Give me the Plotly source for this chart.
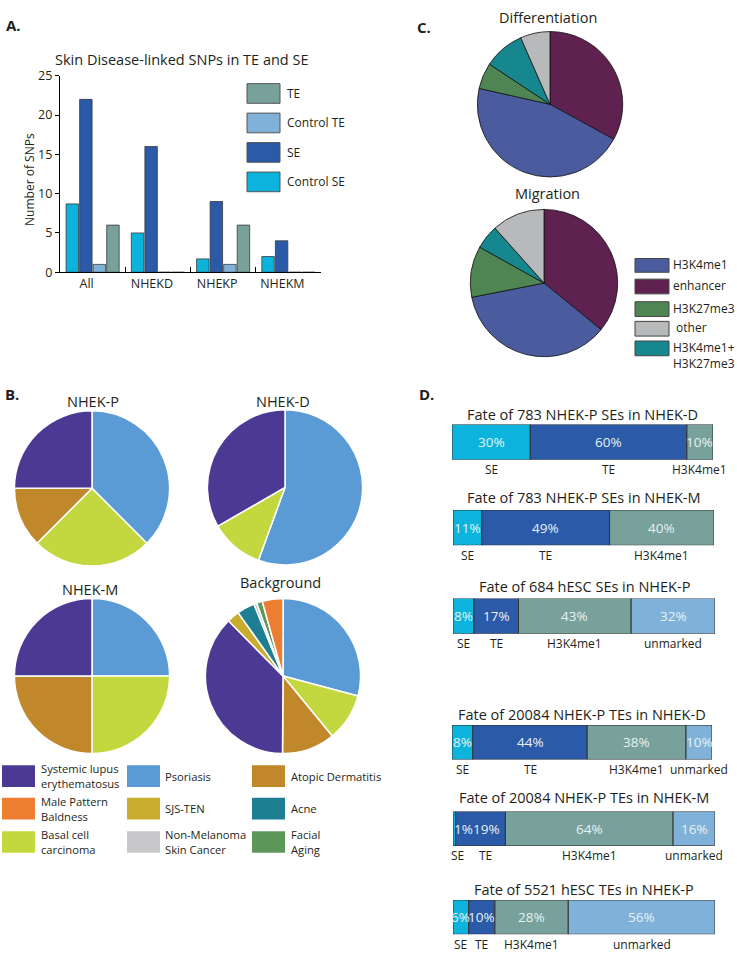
import plotly.graph_objects as go

W, H = 737, 960
FONT = "Open Sans"
TXT = "#231f20"

# ---------------- Panel A data ----------------
a_title = "Skin Disease-linked SNPs in TE and SE"
a_categories = ["All", "NHEKD", "NHEKP", "NHEKM"]
a_series = ["Control SE", "SE", "Control TE", "TE"]
a_control_se = [8.7, 5, 1.7, 2]
a_se = [22, 16, 9, 4]
a_control_te = [1, 0, 1, 0]
a_te = [6, 0, 6, 0]
a_yticks = [0, 5, 10, 15, 20, 25]
a_legend_order = ["TE", "Control TE", "SE", "Control SE"]

# ---------------- Panel B data ----------------
b_diseases = ["Psoriasis", "Basal cell carcinoma", "Atopic Dermatitis",
              "Systemic lupus erythematosus", "SJS-TEN", "Acne",
              "Non-Melanoma Skin Cancer", "Facial Aging", "Male Pattern Baldness"]
b_nhek_p = [3, 2, 1, 2, 0, 0, 0, 0, 0]
b_nhek_d = [5, 1, 0, 3, 0, 0, 0, 0, 0]
b_nhek_m = [1, 1, 1, 1, 0, 0, 0, 0, 0]
b_background = [29.1, 9.9, 11.0, 37.4, 2.6, 3.7, 0.6, 1.2, 4.3]
b_pie_titles = ["NHEK-P", "NHEK-D", "NHEK-M", "Background"]
b_legend_labels = ["Systemic lupus<br>erythematosus", "Psoriasis", "Atopic Dermatitis",
                   "Male Pattern<br>Baldness", "SJS-TEN", "Acne",
                   "Basal cell<br>carcinoma", "Non-Melanoma<br>Skin Cancer", "Facial<br>Aging"]
b_legend_keys = ["Systemic lupus erythematosus", "Psoriasis", "Atopic Dermatitis",
                 "Male Pattern Baldness", "SJS-TEN", "Acne",
                 "Basal cell carcinoma", "Non-Melanoma Skin Cancer", "Facial Aging"]

# ---------------- Panel C data ----------------
c_marks = ["enhancer", "H3K4me1", "H3K27me3", "H3K4me1+H3K27me3", "other"]
c_differentiation = [33.0, 45.5, 5.8, 9.1, 6.6]
c_migration = [35.9, 36.0, 11.2, 5.3, 11.6]
c_pie_titles = ["Differentiation", "Migration"]
c_legend_keys = ["H3K4me1", "enhancer", "H3K27me3", "other", "H3K4me1+H3K27me3"]
c_legend_labels = ["H3K4me1", "enhancer", "H3K27me3", " other", "H3K4me1+<br>H3K27me3"]

# ---------------- Panel D data ----------------
d_states = ["SE", "TE", "H3K4me1", "unmarked"]
d_titles = ["Fate of 783 NHEK-P SEs in NHEK-D",
            "Fate of 783 NHEK-P SEs in NHEK-M",
            "Fate of 684 hESC SEs in NHEK-P",
            "Fate of 20084 NHEK-P TEs in NHEK-D",
            "Fate of 20084 NHEK-P TEs in NHEK-M",
            "Fate of 5521 hESC TEs in NHEK-P"]
d_p_se_in_d = [30, 60, 10, 0]
d_p_se_in_m = [11, 49, 40, 0]
d_hesc_se_in_p = [8, 17, 43, 32]
d_p_te_in_d = [8, 44, 38, 10]
d_p_te_in_m = [1, 19, 64, 16]
d_hesc_te_in_p = [6, 10, 28, 56]
d_all = [d_p_se_in_d, d_p_se_in_m, d_hesc_se_in_p, d_p_te_in_d, d_p_te_in_m, d_hesc_te_in_p]

# ---------------- styles ----------------
A_COLORS = {"Control SE": "#0cb3dc", "SE": "#2b5aa9", "Control TE": "#80b1d9", "TE": "#77a19a"}
D_COLORS = {"SE": "#0cb3dc", "TE": "#2b5aa9", "H3K4me1": "#77a19a", "unmarked": "#80b1d9"}
B_COLORS = {"Psoriasis": "#5b9bd5", "Basal cell carcinoma": "#c2d83e",
            "Atopic Dermatitis": "#c0882a", "Systemic lupus erythematosus": "#4b3994",
            "SJS-TEN": "#c8ad2f", "Acne": "#1f7f92", "Non-Melanoma Skin Cancer": "#c8c8ca",
            "Facial Aging": "#5e975a", "Male Pattern Baldness": "#ed7d31"}
C_COLORS = {"enhancer": "#5e2150", "H3K4me1": "#4a5b9e", "H3K27me3": "#4f8552",
            "H3K4me1+H3K27me3": "#17878f", "other": "#b8b9bb"}


def fx(px):
    return px / W


def fy(py):
    return 1 - py / H


fig = go.Figure()
annotations = []
shapes = []


def ann(text, x, y, size, xanchor="center", yanchor="middle", color=TXT, **kw):
    d = dict(text=text, x=x, y=y, xref=kw.pop("xref", "paper"), yref=kw.pop("yref", "paper"),
             xanchor=xanchor, yanchor=yanchor, showarrow=False,
             font=dict(family=FONT, size=size, color=color))
    d.update(kw)
    annotations.append(d)


# ================= Panel A =================
a_values = {"Control SE": a_control_se, "SE": a_se, "Control TE": a_control_te, "TE": a_te}
for s in a_series:
    fig.add_trace(go.Bar(x=a_categories, y=a_values[s], name=s, xaxis="x", yaxis="y",
                         marker=dict(color=A_COLORS[s], line=dict(color="#3a3a3a", width=0.8)),
                         showlegend=False, hoverinfo="skip"))

ann("<b>A.</b>", fx(4), fy(16), 15, xanchor="left")
ann(a_title, fx(182), fy(51), 14.5)
ann("Number of SNPs", fx(30), fy(174), 12, textangle=-90)
for i, s in enumerate(a_legend_order):
    y0 = 76 + 30 * i
    shapes.append(dict(type="rect", xref="paper", yref="paper", x0=fx(247), x1=fx(280),
                       y0=fy(y0 + 20), y1=fy(y0), fillcolor=A_COLORS[s],
                       line=dict(color="#555555", width=1)))
    ann(s, fx(285), fy(y0 + 10), 12, xanchor="left")

# ================= Panel B =================
b_sets = [b_nhek_p, b_nhek_d, b_nhek_m, b_background]
b_centers = [(92, 488, 79), (285, 487, 79), (92, 679, 79), (283, 679, 79)]
b_title_pos = [(93, 400), (283, 400), (90, 591), (280, 584)]
for vals, (cx, cy, r), title, (tx, ty) in zip(b_sets, b_centers, b_pie_titles, b_title_pos):
    labs = [d for d, v in zip(b_diseases, vals) if v > 0]
    vs = [v for v in vals if v > 0]
    fig.add_trace(go.Pie(labels=labs, values=vs, sort=False, direction="clockwise", rotation=0,
                         textinfo="none", hoverinfo="label+value", showlegend=False,
                         marker=dict(colors=[B_COLORS[l] for l in labs],
                                     line=dict(color="white", width=1.5)),
                         domain=dict(x=[fx(cx - r), fx(cx + r)], y=[fy(cy + r), fy(cy - r)])))
    ann(title, fx(tx), fy(ty), 14.5)
ann("<b>B.</b>", fx(3), fy(392), 15, xanchor="left")

for i, (key, lab) in enumerate(zip(b_legend_keys, b_legend_labels)):
    col, row = i % 3, i // 3
    bx = [2, 127, 252][col]
    lx = [39, 163, 289][col]
    by = [770, 803, 837][row]
    shapes.append(dict(type="rect", xref="paper", yref="paper", x0=fx(bx), x1=fx(bx + 33),
                       y0=fy(by + 22), y1=fy(by), fillcolor=B_COLORS[key],
                       line=dict(color="white", width=0)))
    ann(lab, fx(lx), fy(by + 11), 11.2, xanchor="left", align="left")

# ================= Panel C =================
c_sets = [c_differentiation, c_migration]
c_centers = [(550, 97, 74), (544, 279, 75)]
c_title_pos = [(548, 9), (547, 188)]
for vals, (cx, cy, r), title, (tx, ty) in zip(c_sets, c_centers, c_pie_titles, c_title_pos):
    fig.add_trace(go.Pie(labels=c_marks, values=vals, sort=False, direction="clockwise", rotation=0,
                         textinfo="none", hoverinfo="label+value", showlegend=False,
                         marker=dict(colors=[C_COLORS[m] for m in c_marks],
                                     line=dict(color="#111111", width=0.8)),
                         domain=dict(x=[fx(cx - r), fx(cx + r)], y=[fy(cy + r), fy(cy - r)])))
    ann(title, fx(tx), fy(ty), 14.5)
ann("<b>C.</b>", fx(415), fy(18), 15, xanchor="left")

c_leg_rows = [(254, 268), (275, 290), (298, 313), (318, 333), (338, 353)]
for key, lab, (y0, y1) in zip(c_legend_keys, c_legend_labels, c_leg_rows):
    shapes.append(dict(type="rect", xref="paper", yref="paper", x0=fx(635), x1=fx(669),
                       y0=fy(y1), y1=fy(y0), fillcolor=C_COLORS[key],
                       line=dict(color="#444444", width=1)))
    if "<br>" in lab:
        ann(lab, fx(671), fy(333.5), 12, xanchor="left", yanchor="top", align="left")
    else:
        ann(lab, fx(671), fy((y0 + y1) / 2 - 1), 12, xanchor="left", align="left")

# ================= Panel D =================
ann("<b>D.</b>", fx(417), fy(392), 15, xanchor="left")
d_boxes = [(452, 713, 423, 459), (453, 714, 510, 546), (453, 715, 600, 636),
           (452, 712, 729, 764), (453, 715, 817, 852), (453, 715, 907, 942)]
d_title_y = [413, 497, 588, 718, 803, 896]
layout_axes = {}
for k, (vals, (x0, x1, y0, y1), title, ty) in enumerate(zip(d_all, d_boxes, d_titles, d_title_y)):
    n = k + 2
    states = [s for s, v in zip(d_states, vals) if v > 0]
    vs = [v for v in vals if v > 0]
    bases = [sum(vs[:i]) for i in range(len(vs))]
    fig.add_trace(go.Bar(y=[0] * len(vs), x=vs, base=bases, orientation="h", width=1,
                         xaxis=f"x{n}", yaxis=f"y{n}",
                         marker=dict(color=[D_COLORS[s] for s in states],
                                     line=dict(color="#333333", width=1)),
                         showlegend=False, hoverinfo="skip"))
    layout_axes[f"xaxis{n}"] = dict(domain=[fx(x0), fx(x1)], range=[0, 100], visible=False,
                                    anchor=f"y{n}", fixedrange=True)
    layout_axes[f"yaxis{n}"] = dict(domain=[fy(y1), fy(y0)], range=[-0.5, 0.5], visible=False,
                                    anchor=f"x{n}", fixedrange=True)
    ann(title, fx((x0 + x1) / 2), fy(ty), 14.5)
    prev_tiny = False
    for s, v, b in zip(states, vs, bases):
        # percent inside segment (tiny segments: text starts at the segment)
        if v < 3:
            ann(f"{v}%", b, 0, 13.5, xref=f"x{n}", yref=f"y{n}", color="#e6f3f3",
                xanchor="left", xshift=-1)
        else:
            ann(f"{v}%", b + v / 2, 0, 13.5, xref=f"x{n}", yref=f"y{n}", color="#e6f3f3",
                xshift=6 if prev_tiny else 0)
        # state name below the bar
        ann(s, b + v / 2, fy(y1 + 10), 12, xref=f"x{n}",
            xshift=3 if v < 3 else (5 if prev_tiny else 0))
        prev_tiny = v < 3

fig.update_layout(
    width=W, height=H, autosize=False,
    margin=dict(l=0, r=0, t=0, b=0),
    paper_bgcolor="white", plot_bgcolor="white",
    barmode="group", bargap=0.17, bargroupgap=0.08,
    font=dict(family=FONT, color=TXT),
    xaxis=dict(domain=[fx(60), fx(321)], anchor="y", type="category", range=[-0.5, 3.5],
               tickson="boundaries", ticks="inside", ticklen=5, tickcolor="black",
               showline=True, linecolor="black", linewidth=1.2, showgrid=False,
               ticklabelshift=-6,
               tickfont=dict(family=FONT, size=12.5, color=TXT), fixedrange=True),
    yaxis=dict(domain=[fy(268), fy(68)], anchor="x", range=[0, 25], tickvals=a_yticks,
               ticks="outside", ticklen=4, tickcolor="black", showline=True, linecolor="black",
               linewidth=1.2, showgrid=False, zeroline=False,
               tickfont=dict(family=FONT, size=12.5, color=TXT), fixedrange=True),
    annotations=annotations, shapes=shapes,
    **layout_axes,
)

fig.write_html("out.html", config={"displayModeBar": False},
               post_script="document.body.style.margin='0';")
